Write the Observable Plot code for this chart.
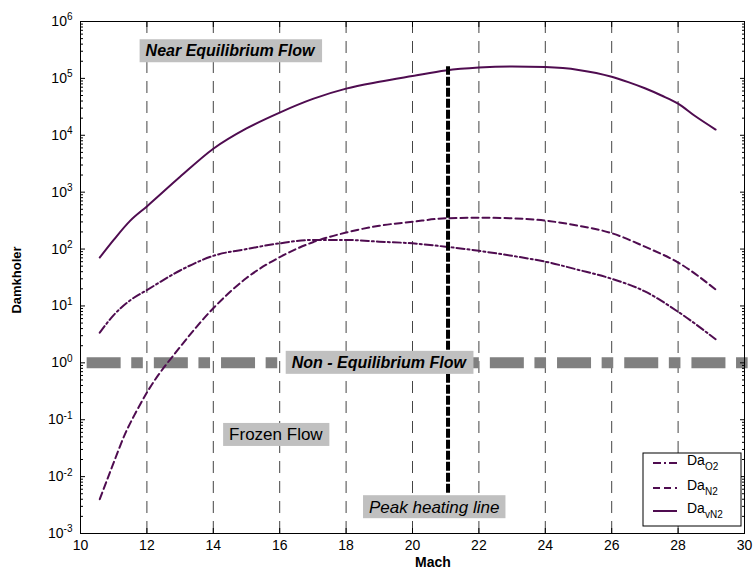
<!DOCTYPE html>
<html><head><meta charset="utf-8">
<script src="https://cdn.jsdelivr.net/npm/d3@7"></script>
<script src="https://cdn.jsdelivr.net/npm/@observablehq/plot@0.6"></script>
<style>
body{margin:0;background:#fff;}
#chart{width:754px;height:572px;}
svg{font-family:"Liberation Sans",Arial,Helvetica,sans-serif;}
</style></head><body><div id="chart"></div>
<script>
// ---- data ----
const machO2 = [10.58, 11, 11.5, 12, 13, 14, 15, 16, 17, 18, 19, 20, 21, 22, 23, 24, 25, 26, 27, 28, 29.13];
const daO2   = [3.4, 6.9, 12.6, 19, 42, 76, 100, 126, 145, 145, 135, 126, 110, 93, 76, 60, 43, 30, 18, 7.9, 2.6];

const machN2 = [10.58, 10.95, 11.35, 11.65, 12, 13, 14, 15, 16, 17, 18, 19, 20, 21, 22, 23, 24, 25, 26, 27, 28, 29.13];
const daN2   = [0.004, 0.0148, 0.0575, 0.129, 0.30, 1.9, 9.1, 31, 72, 132, 195, 257, 302, 347, 355, 347, 316, 257, 190, 110, 58, 19.5];

const machVN2 = [10.58, 11, 11.5, 12, 13, 14, 15, 16, 17, 18, 19, 20, 21, 22, 23, 24, 25, 26, 26.5, 27, 27.5, 28, 28.5, 29.13];
const daVN2   = [71, 145, 316, 562, 1860, 5800, 13200, 25100, 43600, 66000, 87000, 110000, 138000, 155000, 162000, 158000, 141000, 107000, 86000, 67000, 50000, 36000, 22000, 12600];

const xTicks = [10, 12, 14, 16, 18, 20, 22, 24, 26, 28, 30];
const yTicks = [1e-3, 1e-2, 1e-1, 1e0, 1e1, 1e2, 1e3, 1e4, 1e5, 1e6];
const gridMach = [12, 14, 16, 18, 20, 22, 24, 26, 28];

const peakMach = 21.07;
const peakDa = [0.0051, 160000];
const boundaryDa = 1;
const boundaryMach = [10.2, 30.2];

const annoText  = ["Near Equilibrium Flow", "Non - Equilibrium Flow", "Frozen Flow", "Peak heating line"];
const annoMach  = [14.52, 19.0, 15.9, 20.67];
const annoDa    = [300000, 1, 0.054, 0.0029];
const annoWeight = ["bold", "bold", "normal", "normal"];
const annoStyle  = ["italic", "italic", "normal", "italic"];
const annoSize   = [16, 16, 17, 17];

const legendSub = ["O2", "N2", "vN2"];
const legendDash = ["8,3,2,3", "7,4", null];

const lineColor = "#4f0c50";

// minor log ticks
const minorTicks = [];
for (let k = -3; k < 6; k++) for (let m = 2; m <= 9; m++) minorTicks.push(m * Math.pow(10, k));

const rows = (mach, da) => mach.map((m, i) => ({mach: m, da: da[i]}));

const chart = Plot.plot({
  width: 754, height: 572,
  marginLeft: 80, marginRight: 10, marginTop: 21, marginBottom: 39,
  style: {fontFamily: '"Liberation Sans",Arial,sans-serif', fontSize: "14px", color: "#000", background: "#fff", overflow: "visible"},
  x: {domain: [10, 30]},
  y: {type: "log", domain: [1e-3, 1e6]},
  marks: [
    Plot.ruleX(gridMach, {stroke: "#444", strokeWidth: 1, strokeDasharray: "12,8"}),
    Plot.ruleY([boundaryDa], {x1: boundaryMach[0], x2: boundaryMach[1], stroke: "#808080", strokeWidth: 11, strokeDasharray: "34,10.6,11.6,11"}),
    Plot.line(rows(machO2, daO2), {x: "mach", y: "da", stroke: lineColor, strokeWidth: 2, strokeDasharray: legendDash[0], curve: "monotone-x"}),
    Plot.line(rows(machN2, daN2), {x: "mach", y: "da", stroke: lineColor, strokeWidth: 2, strokeDasharray: legendDash[1], curve: "monotone-x"}),
    Plot.line(rows(machVN2, daVN2), {x: "mach", y: "da", stroke: lineColor, strokeWidth: 2, curve: "monotone-x"}),
    Plot.ruleX([peakMach], {y1: peakDa[0], y2: peakDa[1], stroke: "#000", strokeWidth: 4, strokeDasharray: "9,2"}),
    Plot.frame({stroke: "#000", strokeWidth: 1}),
    Plot.axisX(xTicks, {anchor: "bottom", tickSize: -5, tickPadding: 12, label: null, fontSize: 14}),
    Plot.axisX(xTicks, {anchor: "top", tickSize: -5, tickFormat: () => "", label: null}),
    Plot.axisY(yTicks, {anchor: "left", tickSize: -5, tickPadding: 13, label: null, fontSize: 14,
      tickFormat: d => "10^" + Math.round(Math.log10(d))}),
    Plot.axisY(minorTicks, {anchor: "left", tickSize: -3, tickFormat: () => "", label: null}),
    Plot.axisY(yTicks, {anchor: "right", tickSize: -5, tickFormat: () => "", label: null}),
    Plot.axisY(minorTicks, {anchor: "right", tickSize: -3, tickFormat: () => "", label: null})
  ]
});
document.getElementById("chart").appendChild(chart);

const svg = d3.select(chart);
// superscript exponents on y tick labels
svg.selectAll("text").each(function() {
  const t = this.textContent;
  const m = /^10\^(-?\d+)$/.exec(t);
  if (m) {
    const el = d3.select(this);
    el.text("10");
    el.append("tspan").attr("dy", "-0.55em").attr("font-size", "10px").text(m[1]);
  }
});

const sx = chart.scale("x"), sy = chart.scale("y");

// axis titles
svg.append("text").attr("transform", "translate(18,280) rotate(-90)")
  .attr("text-anchor", "middle").attr("dominant-baseline", "middle")
  .attr("font-weight", "bold").attr("font-size", "13px").text("Damkholer");
svg.append("text").attr("x", 433).attr("y", 567)
  .attr("text-anchor", "middle").attr("font-weight", "bold").attr("font-size", "14px").text("Mach");

// annotations with gray boxes
const ag = svg.append("g");
annoText.forEach((txt, i) => {
  const g = ag.append("g");
  const cx = sx.apply(annoMach[i]), cy = sy.apply(annoDa[i]);
  const t = g.append("text").attr("x", cx).attr("y", cy)
    .attr("text-anchor", "middle").attr("dy", "0.35em")
    .attr("font-size", annoSize[i] + "px").attr("font-weight", annoWeight[i])
    .attr("font-style", annoStyle[i]).attr("fill", "#000").text(txt);
  const bb = t.node().getBBox();
  g.insert("rect", "text").attr("x", bb.x - 6).attr("y", cy - 11.5)
    .attr("width", bb.width + 12).attr("height", 23).attr("fill", "#c0c0c0");
});

// legend
const lg = svg.append("g").attr("text-anchor", "start");
lg.append("rect").attr("x", 643).attr("y", 453).attr("width", 98).attr("height", 73)
  .attr("fill", "#fff").attr("stroke", "#000").attr("stroke-width", 1);
const ly = [463, 488, 511];
legendSub.forEach((s, i) => {
  lg.append("line").attr("x1", 653).attr("x2", 677).attr("y1", ly[i]).attr("y2", ly[i])
    .attr("stroke", lineColor).attr("stroke-width", 2)
    .attr("stroke-dasharray", legendDash[i] ? legendDash[i] : null);
  const t = lg.append("text").attr("x", 687).attr("y", ly[i] + 2)
    .attr("text-anchor", "start").attr("font-size", "14px").text("Da");
  t.append("tspan").attr("dy", "0.45em").attr("font-size", "10px").text(s);
});
</script>
</body></html>
